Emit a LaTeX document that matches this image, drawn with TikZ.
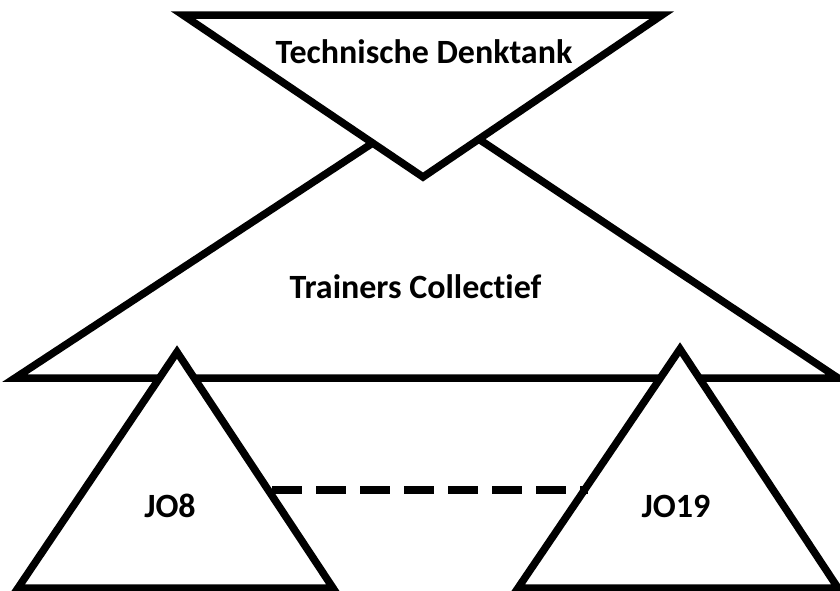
\documentclass[tikz,border=0pt]{standalone}
\usepackage{fontspec}
\setmainfont[Ligatures={NoCommon}]{Carlito}
\begin{document}
\begin{tikzpicture}[x=1pt,y=-1pt,
  shp/.style={draw=black,line width=7.5pt,line join=miter,fill=white},
  lbl/.style={font=\bfseries\fontsize{34}{40}\selectfont,anchor=base,inner sep=0pt},
  link/.style={draw=black,line width=7.5pt,dash pattern=on 30pt off 14pt}]
\useasboundingbox[fill=white] (0,0) rectangle (840,590);
% big triangle
\draw[shp] (15,378) -- (429,106) -- (838,378) -- cycle;
% inverted triangle
\draw[shp] (183,15) -- (662,15) -- (423,177) -- cycle;
% small triangles
\draw[shp] (177,352) -- (333,588) -- (18,588) -- cycle;
\draw[shp] (680,349) -- (838,588) -- (518,588) -- cycle;
\coordinate (dl) at (272,490);
\coordinate (dr) at (588,490);
\draw[link] (dl) -- (dr);
\node[lbl] (td) at (424,63) {Technische Denktank};
\node[lbl] (tc) at (415.5,298) {Trainers Collec\kern0pt tief};
\node[lbl] (jo8) at (170,517) {JO8};
\node[lbl] (jo19) at (676,517) {JO19};
\end{tikzpicture}
\end{document}
